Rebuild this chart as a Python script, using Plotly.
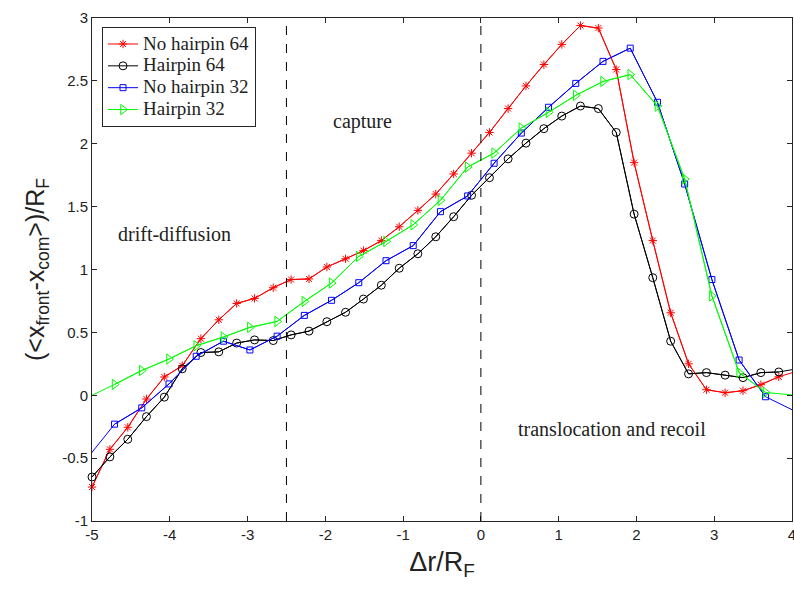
import plotly.graph_objects as go

# ---- data ----
x_64 = [-5.00, -4.77, -4.54, -4.30, -4.07, -3.84, -3.60, -3.37, -3.14, -2.91,
        -2.67, -2.44, -2.21, -1.98, -1.74, -1.51, -1.28, -1.05, -0.81, -0.58,
        -0.35, -0.12, 0.11, 0.35, 0.58, 0.81, 1.04, 1.28, 1.51, 1.74,
        1.97, 2.21, 2.44, 2.67, 2.90, 3.14, 3.37, 3.60, 3.83, 4.06]
y_nohairpin64 = [-0.73, -0.43, -0.255, -0.03, 0.145, 0.235, 0.45, 0.60, 0.73, 0.77,
                 0.855, 0.92, 0.925, 1.02, 1.085, 1.15, 1.23, 1.34, 1.47, 1.60,
                 1.76, 1.925, 2.09, 2.28, 2.46, 2.63, 2.79, 2.94, 2.92, 2.59,
                 1.85, 1.23, 0.656, 0.25, 0.044, 0.02, 0.036, 0.084, 0.147, 0.19]
y_hairpin64 = [-0.65, -0.49, -0.35, -0.17, -0.015, 0.21, 0.34, 0.345, 0.415, 0.44,
               0.435, 0.48, 0.51, 0.585, 0.66, 0.765, 0.875, 1.01, 1.125, 1.26,
               1.42, 1.59, 1.73, 1.88, 2.005, 2.12, 2.22, 2.30, 2.28, 2.09,
               1.44, 0.935, 0.43, 0.17, 0.18, 0.16, 0.14, 0.18, 0.185, 0.21]

x_32 = [-5.06, -4.71, -4.36, -4.01, -3.66, -3.31, -2.97, -2.62, -2.27, -1.92,
        -1.57, -1.22, -0.87, -0.52, -0.17, 0.17, 0.52, 0.87, 1.22, 1.57,
        1.92, 2.27, 2.62, 2.97, 3.32, 3.66, 4.05]
y_nohairpin32 = [-0.50, -0.23, -0.10, 0.09, 0.31, 0.43, 0.36, 0.47, 0.635, 0.755,
                 0.895, 1.07, 1.19, 1.46, 1.585, 1.845, 2.085, 2.29, 2.48, 2.655,
                 2.76, 2.33, 1.68, 0.92, 0.28, -0.012, -0.13]
y_hairpin32 = [-0.018, 0.086, 0.197, 0.288, 0.394, 0.463, 0.54, 0.587, 0.746, 0.892,
               1.104, 1.223, 1.356, 1.55, 1.815, 1.926, 2.125, 2.25, 2.385, 2.495,
               2.55, 2.30, 1.72, 0.79, 0.18, 0.022, 0.0]

x_ticks = [-5, -4, -3, -2, -1, 0, 1, 2, 3, 4]
x_ticklabels = ["-5", "-4", "-3", "-2", "-1", "0", "1", "2", "3", "4"]
y_ticks = [-1, -0.5, 0, 0.5, 1, 1.5, 2, 2.5, 3]
y_ticklabels = ["-1", "-0.5", "0", "0.5", "1", "1.5", "2", "2.5", "3"]

region_labels = ["drift-diffusion", "capture", "translocation and recoil"]
region_x = [-3.94, -1.52, 1.69]
region_y = [1.28, 2.175, -0.27]
boundaries = [-2.5, 0]

series = [
    ("No hairpin 64", x_64, y_nohairpin64, "#ff0000", "asterisk-open", 7),
    ("Hairpin 64", x_64, y_hairpin64, "#000000", "circle-open", 8),
    ("No hairpin 32", x_32, y_nohairpin32, "#0000ff", "square-open", 6),
    ("Hairpin 32", x_32, y_hairpin32, "#00ff00", "triangle-right-open", 9),
]

XMIN, XMAX = -5, 4

fig = go.Figure()
for name, xs, ys, color, sym, size in series:
    # full line (clipped to the axes)
    fig.add_trace(go.Scatter(x=xs, y=ys, mode="lines", showlegend=False,
                             line=dict(color=color, width=1), hoverinfo="skip"))
    xin = [x for x in xs if XMIN - 1e-9 <= x <= XMAX + 1e-9]
    yin = [y for x, y in zip(xs, ys) if XMIN - 1e-9 <= x <= XMAX + 1e-9]
    fig.add_trace(go.Scatter(x=xin, y=yin, mode="lines+markers",
                             name='<span style="font-size:19px">' + name + '</span>',
                             cliponaxis=False,
                             line=dict(color=color, width=1),
                             marker=dict(symbol=sym, size=size, color=color,
                                         line=dict(color=color, width=1))))

for xv in boundaries:
    fig.add_shape(type="line", x0=xv, x1=xv, y0=0, y1=1, xref="x", yref="paper",
                  line=dict(color="#000000", width=1, dash="dash"))

serif = "Liberation Serif"
for txt, ax, ay in zip(region_labels, region_x, region_y):
    fig.add_annotation(x=ax, y=ay, text=txt, showarrow=False,
                       font=dict(family=serif, size=20, color="#222222"))

axis_common = dict(showline=True, linecolor="#262626", linewidth=1, mirror="ticks",
                   ticks="inside", ticklen=5, tickcolor="#262626", showgrid=False,
                   zeroline=False, ticklabeloverflow="allow",
                   tickfont=dict(family="Liberation Sans", size=15, color="#222222"))

fig.update_layout(
    width=794, height=592,
    margin=dict(l=92, r=2, t=18, b=71, autoexpand=False),
    paper_bgcolor="white", plot_bgcolor="white",
    xaxis=dict(range=[XMIN, XMAX], tickvals=x_ticks, ticktext=x_ticklabels,
               title=dict(text="Δr/R<sub>F</sub>", standoff=10,
                          font=dict(family="Liberation Sans", size=27, color="#222222")),
               **axis_common),
    yaxis=dict(range=[-1, 3], tickvals=y_ticks, ticktext=y_ticklabels,
               title=dict(text="(&lt;x<sub>front</sub>-x<sub>com</sub>&gt;)/R<sub>F</sub>",
                          standoff=10,
                          font=dict(family="Liberation Sans", size=25, color="#222222")),
               **axis_common),
    legend=dict(x=0.0143, y=0.982, xanchor="left", yanchor="top",
                bgcolor="white", bordercolor="#262626", borderwidth=1,
                font=dict(family=serif, size=14.5, color="#222222"),
                tracegroupgap=0, itemwidth=30),
    showlegend=True,
)

fig.write_html("out.html", config={"displayModeBar": False},
               post_script="document.body.style.margin='0';document.body.style.padding='0';")
